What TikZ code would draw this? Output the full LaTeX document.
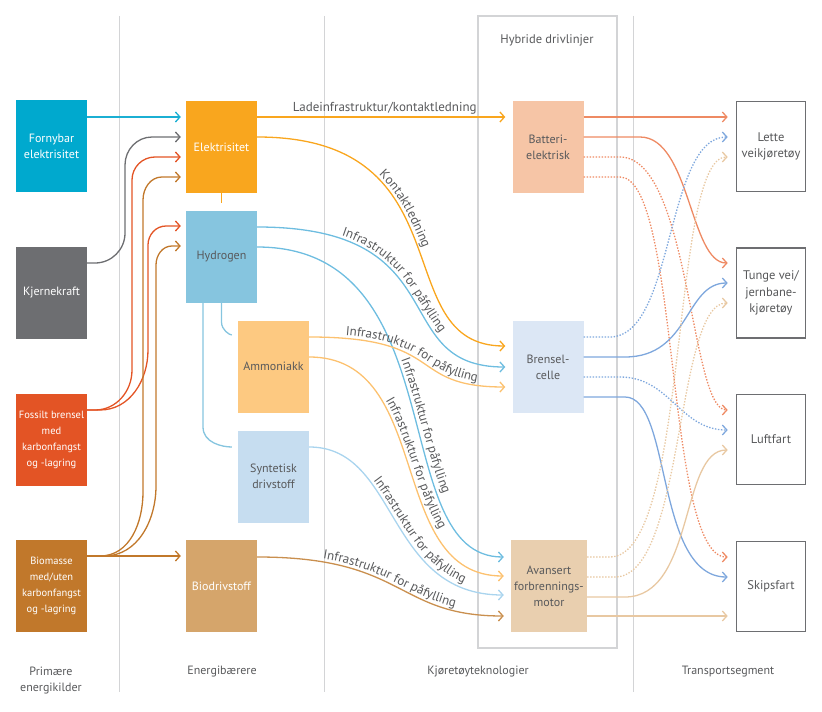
\documentclass[tikz,border=0pt]{standalone}
\usepackage{fontspec}
\setmainfont{PT Sans}
\usetikzlibrary{arrows.meta,decorations.text}
\definecolor{txt}{HTML}{58595B}
\definecolor{sepc}{HTML}{D3D4D6}
\definecolor{frame}{HTML}{6D6E71}
\definecolor{cForn}{HTML}{00A9CE}
\definecolor{cKjer}{HTML}{6D6E71}
\definecolor{cFoss}{HTML}{E35425}
\definecolor{cBio}{HTML}{C1782B}
\definecolor{cElek}{HTML}{F9A61E}
\definecolor{cHyd}{HTML}{86C5DF}
\definecolor{cAmm}{HTML}{FDC981}
\definecolor{cSyn}{HTML}{C6DDF0}
\definecolor{cBiod}{HTML}{D5A56B}
\definecolor{cBat}{HTML}{F6C5A6}
\definecolor{cBren}{HTML}{DCE7F5}
\definecolor{cAvan}{HTML}{E9CFAF}
\definecolor{aForn}{HTML}{1BAFD3}
\definecolor{aHyd}{HTML}{6EBDE0}
\definecolor{aAmm}{HTML}{FCC16F}
\definecolor{aSyn}{HTML}{A9D4EE}
\definecolor{aBiod}{HTML}{C98F4E}
\definecolor{aBat}{HTML}{EE8A63}
\definecolor{aBren}{HTML}{7EA7DD}
\definecolor{aAvan}{HTML}{E8C8A2}
\newcommand\lf{\fontsize{12bp}{16bp}\selectfont}
\newcommand\sfnt{\fontsize{10.5bp}{16bp}\selectfont}
\newcommand\cf{\fontsize{13bp}{16bp}\selectfont}
\begin{document}
\begin{tikzpicture}[x=1bp,y=-1bp,
  box/.style={minimum width=71bp, minimum height=92bp, inner sep=0pt, align=center, font=\lf, text=white},
  gbox/.style={box, text=txt},
  tbox/.style={box, text=txt, draw=frame, line width=1.6bp, fill=white, minimum width=69bp, minimum height=90bp, font=\fontsize{12.5bp}{16.5bp}\selectfont},
  conn/.style={line width=1.3bp, -{Straight Barb[length=4.5bp,width=10bp]}, shorten >=5bp},
  connr/.style={conn, shorten >=8bp},
  dots/.style={dash pattern=on 1.4bp off 1.6bp},
  sep/.style={sepc, line width=1bp},
  lab/.style n args={2}{decorate, decoration={text along path, text={|\cf\color{txt}|#1}, text align={center, #2}, raise=3bp}},
  plain/.style={font=\lf, text=txt, align=center}]
\useasboundingbox (0,0) rectangle (822,712);
% separators and hybrid frame
\draw[sep] (119,16) -- (119,692);
\draw[sep] (324,16) -- (324,692);
\draw[sep] (633,16) -- (633,692);
\draw[sepc, line width=1.2bp] (478,16) rectangle (617,648);
\node[plain, font=\fontsize{12.5bp}{16bp}\selectfont] (hyb) at (547,40) {Hybride drivlinjer};
% primary sources
\node[box, fill=cForn] (forn) at (51.5,146) {Fornybar\\elektrisitet};
\node[box, fill=cKjer] (kjer) at (51.5,293) {Kjernekraft};
\node[box, fill=cFoss, font=\sfnt] (foss) at (51.5,439.5) {Fossilt brensel\\med\\karbonfangst\\og -lagring};
\node[box, fill=cBio, font=\sfnt] (bio) at (51.5,586) {Biomasse\\med/uten\\karbonfangst\\og -lagring};
% carriers
\node[box, fill=cElek] (elek) at (221.5,147) {Elektrisitet};
\node[gbox, fill=cHyd] (hyd) at (221.5,256.5) {Hydrogen};
\node[gbox, fill=cAmm] (amm) at (273.5,366.5) {Ammoniakk};
\node[gbox, fill=cSyn] (syn) at (273.5,476.5) {Syntetisk\\drivstoff};
\node[box, fill=cBiod] (biod) at (221.5,586) {Biodrivstoff};
% technologies
\node[gbox, fill=cBat] (bat) at (548,147) {Batteri-\\elektrisk};
\node[gbox, fill=cBren] (bren) at (548,367) {Brensel-\\celle};
\node[gbox, fill=cAvan, minimum width=76bp] (avan) at (549,586) {Avansert\\forbrennings-\\motor};
% segments
\node[tbox] (lette) at (771,146.5) {Lette\\veikjøretøy};
\node[tbox] (tunge) at (771,293) {Tunge vei/\\jernbane-\\kjøretøy};
\node[tbox] (luft) at (771,439.5) {Luftfart};
\node[tbox] (skip) at (771,586.5) {Skipsfart};
% bottom labels
\node[plain] (l1) at (51,681) {Primære\\energikilder};
\node[plain] (l2) at (222,672) {Energibærere};
\node[plain] (l3) at (478,672) {Kjøretøyteknologier};
\node[plain] (l4) at (728,672) {Transportsegment};
% primary -> carriers
\draw[conn, aForn] (forn.east|-0,117) -- (elek.west|-0,117);
\draw[conn, cKjer] (kjer.east|-0,263) -- (95,263) to[out=0,in=-90] (125,233) -- (125,165) to[out=90,in=180] (152,137) -- (elek.west|-0,137);
\draw[conn, cFoss] (foss.east|-0,410) -- (95,410) to[out=0,in=-90] (132,370) -- (132,180) to[out=90,in=180] (155,157) -- (elek.west|-0,157);
\draw[conn, cFoss] (foss.east|-0,410) -- (100,410) to[out=0,in=-90] (148,350) -- (148,245) to[out=90,in=180] (166,226) -- (hyd.west|-0,226);
\draw[conn, cBio] (bio.east|-0,556) -- (100,556) to[out=0,in=-90] (143,492) -- (143,200) to[out=90,in=180] (162,177) -- (elek.west|-0,177);
\draw[conn, cBio] (bio.east|-0,556) -- (104,556) to[out=0,in=-90] (156,486) -- (156,265) to[out=90,in=180] (172,246) -- (hyd.west|-0,246);
\draw[conn, cBio] (bio.east|-0,556) -- (biod.west|-0,556);
% carrier internal links
\draw[cElek, line width=1.3bp] (elek.south) -- ([yshift=7bp]hyd.north);
\draw[cHyd, line width=1.3bp, shorten >=6bp] (hyd.south) -- (hyd.south|-0,322) to[out=-90,in=180] (amm.west|-0,335);
\draw[cHyd, line width=1.3bp, shorten >=6bp] (203,0|-hyd.south) -- (203,427) to[out=-90,in=180] (syn.west|-0,447);
% carriers -> technologies
\draw[conn, cElek, shorten >=7bp] (elek.east|-0,117) -- node[plain, font=\cf, above=-1bp] (ladelab) {Ladeinfrastruktur/kontaktledning} (bat.west|-0,117);
\draw[conn, cElek, shorten >=7bp] (elek.east|-0,137) .. controls (470,137) and (385,346) .. (bren.west|-0,346);
\path[lab={Kontaktledning}{right indent=16bp}] (elek.east|-0,137) .. controls (470,137) and (385,346) .. (bren.west|-0,346);
\draw[conn, aHyd, shorten >=7bp] (hyd.east|-0,227) .. controls (460,227) and (385,367) .. (bren.west|-0,367);
\path[lab={Infrastruktur for påfylling}{left indent=0bp}] (hyd.east|-0,227) .. controls (460,227) and (385,367) .. (bren.west|-0,367);
\draw[conn, aHyd, shorten >=7bp] (hyd.east|-0,247) .. controls (457,247) and (385,557) .. (avan.west|-0,557);
\path[lab={Infrastruktur for påfylling}{left indent=95bp}] (hyd.east|-0,247) .. controls (457,247) and (385,557) .. (avan.west|-0,557);
\draw[conn, aAmm, shorten >=7bp] (amm.east|-0,337) .. controls (449,337) and (405,387) .. (bren.west|-0,387);
\path[lab={Infrastruktur for påfylling}{left indent=0bp}] (amm.east|-0,337) .. controls (449,337) and (405,387) .. (bren.west|-0,387);
\draw[conn, aAmm, shorten >=7bp] (amm.east|-0,357) .. controls (435,357) and (385,576) .. (avan.west|-0,576);
\path[lab={Infrastruktur for påfylling}{left indent=0bp}] (amm.east|-0,357) .. controls (435,357) and (385,576) .. (avan.west|-0,576);
\draw[conn, aSyn, shorten >=7bp] (syn.east|-0,447) .. controls (399,447) and (385,595) .. (avan.west|-0,595);
\path[lab={Infrastruktur for påfylling}{left indent=24bp}] (syn.east|-0,447) .. controls (399,447) and (385,595) .. (avan.west|-0,595);
\draw[conn, aBiod, shorten >=7bp] (biod.east|-0,557) .. controls (407,557) and (395,616) .. (avan.west|-0,616);
\path[lab={Infrastruktur for påfylling}{left indent=8bp}] (biod.east|-0,557) .. controls (407,557) and (395,616) .. (avan.west|-0,616);
% technologies -> segments
\draw[connr, aBat] (bat.east|-0,117) -- (lette.west|-0,117);
\draw[connr, aBat] (bat.east|-0,137) -- (640,137) .. controls (690,137) and (690,263) .. (tunge.west|-0,263);
\draw[connr, aBat, dots] (bat.east|-0,157) -- (620,157) .. controls (690,157) and (690,410) .. (luft.west|-0,410);
\draw[connr, aBat, dots] (bat.east|-0,177) -- (620,177) .. controls (680,177) and (665,557) .. (skip.west|-0,557);
\draw[connr, aBren, dots] (bren.east|-0,337) -- (610,337) .. controls (675,337) and (665,137) .. (lette.west|-0,137);
\draw[connr, aBren] (bren.east|-0,357) -- (625,357) .. controls (690,357) and (685,283) .. (tunge.west|-0,283);
\draw[connr, aBren, dots] (bren.east|-0,377) -- (620,377) .. controls (670,377) and (680,430) .. (luft.west|-0,430);
\draw[connr, aBren] (bren.east|-0,397) -- (625,397) .. controls (672,397) and (655,577) .. (skip.west|-0,577);
\draw[connr, aAvan, dots] (avan.east|-0,557) -- (610,557) .. controls (690,557) and (670,157) .. (lette.west|-0,157);
\draw[connr, aAvan, dots] (avan.east|-0,577) -- (615,577) .. controls (685,577) and (675,303) .. (tunge.west|-0,303);
\draw[connr, aAvan] (avan.east|-0,597) -- (625,597) .. controls (695,597) and (680,450) .. (luft.west|-0,450);
\draw[connr, aAvan] (avan.east|-0,616) -- (skip.west|-0,616);
\end{tikzpicture}
\end{document}
